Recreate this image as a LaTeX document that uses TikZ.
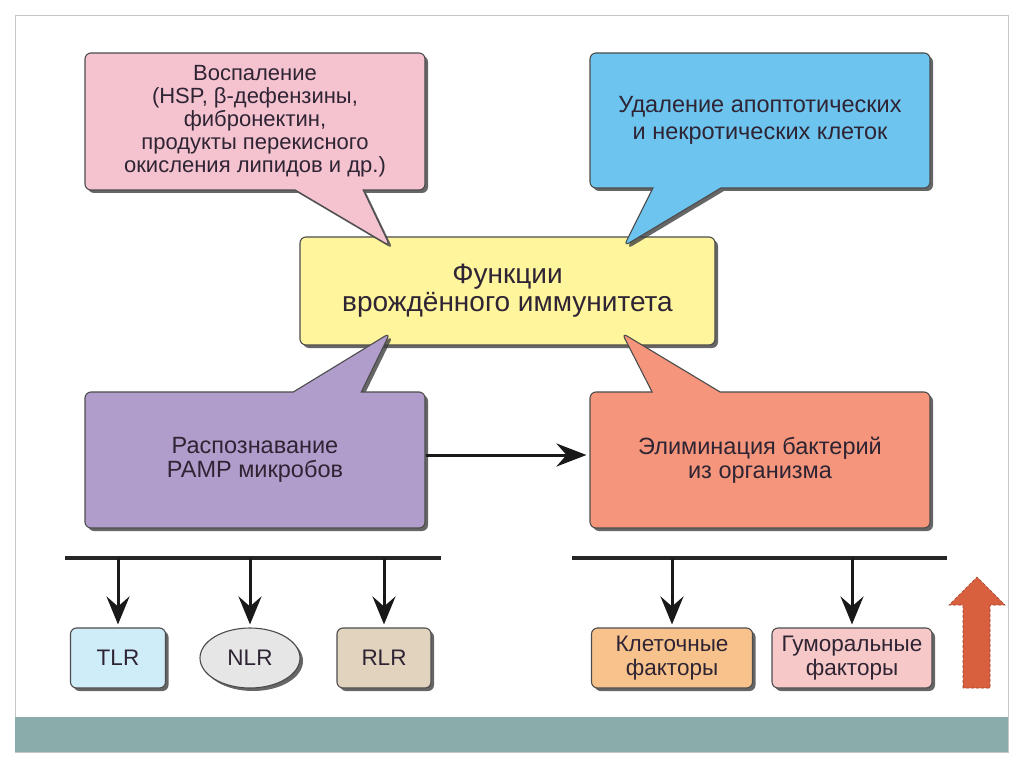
\documentclass[tikz,border=0pt]{standalone}
\usepackage{fontspec}
\setmainfont{Liberation Sans}
\usetikzlibrary{shapes.callouts,shapes.geometric,shadows,arrows.meta}

\definecolor{txtcol}{HTML}{2E2433}
\definecolor{pinkfill}{HTML}{F5C3D0}
\definecolor{bluefill}{HTML}{6CC4EF}
\definecolor{yellowfill}{HTML}{FFF59C}
\definecolor{purplefill}{HTML}{B19DCB}
\definecolor{orangefill}{HTML}{F5957C}
\definecolor{tlrfill}{HTML}{CFECF9}
\definecolor{nlrfill}{HTML}{E6E6E6}
\definecolor{rlrfill}{HTML}{E2D3BE}
\definecolor{cellfill}{HTML}{F8C28C}
\definecolor{humfill}{HTML}{F7C8C8}
\definecolor{barcol}{HTML}{8AACAB}
\definecolor{redarrow}{HTML}{D9603F}

\begin{document}
\begin{tikzpicture}[x=1pt, y=-1pt, >=Stealth, line width=1pt]

    \tikzset{
        shadebox/.style={draw=black!70, line width=1.1pt, rounded corners=6pt,
            align=center, text=txtcol, inner sep=0pt,
            drop shadow={shadow xshift=3pt, shadow yshift=-3pt, fill=black!75, opacity=0.8}},
        bigbox/.style={shadebox, font=\fontsize{23.5}{24.5}\selectfont},
        speech/.style={bigbox, rectangle callout, callout pointer width=68pt},
        smallbox/.style={shadebox, font=\fontsize{22.5}{23.5}\selectfont, minimum height=60pt},
        bus/.style={line width=3.5pt, black!85},
        drop/.style={-{Stealth[length=28pt, width=23pt, inset=10pt]}, line width=3pt, black!90, shorten >=3pt},
    }

    \useasboundingbox (0,0) rectangle (1024,767);

    % =========================================================================
    % FRAME
    % =========================================================================
    \draw[line width=0.8pt, gray!45] (15,15) rectangle (1008,752);
    \fill[barcol] (15,717) rectangle (1008,752);

    % =========================================================================
    % CENTRE
    % =========================================================================
    \node[shadebox, fill=yellowfill, minimum width=415pt, minimum height=108pt,
          font=\fontsize{28}{28}\selectfont] (innate) at (507.5,291)
          {Функции\\врождённого иммунитета};

    % --- Upper callouts ---
    \node[speech, fill=pinkfill, minimum width=340pt, minimum height=137pt,
          font=\fontsize{22}{23}\selectfont,
          callout absolute pointer={(390,246)}] (inflam) at (255,121.5)
          {Воспаление\\(HSP, β-дефензины,\\фибронектин,\\продукты перекисного\\окисления липидов и др.)};
    \node[speech, fill=bluefill, minimum width=340pt, minimum height=135pt,
          font=\fontsize{23.5}{27}\selectfont,
          callout absolute pointer={(624,246)}] (removal) at (760,120.5)
          {Удаление апоптотических\\и некротических клеток};

    % --- Lower callouts ---
    \node[speech, fill=purplefill, minimum width=340pt, minimum height=136pt,
          callout absolute pointer={(390,333)}] (pamp) at (255,460)
          {Распознавание\\PAMP микробов};
    \node[speech, fill=orangefill, minimum width=340pt, minimum height=136pt,
          callout absolute pointer={(622,333)}] (elim) at (760,460)
          {Элиминация бактерий\\из организма};

    \draw[-{Stealth[length=30pt, width=23pt, inset=10pt]}, line width=3pt, black!90, shorten >=3pt]
        ([yshift=5pt]pamp.east) -- ([yshift=5pt]elim.west);

    % =========================================================================
    % RECEPTORS (left)
    % =========================================================================
    \coordinate (busL-w) at (65,558);
    \coordinate (busL-e) at (441,558);
    \draw[bus] (busL-w) -- (busL-e);

    \node[smallbox, fill=tlrfill, minimum width=95pt] (TLR) at (118,658) {TLR};
    \node[shadebox, ellipse, fill=nlrfill, minimum width=100pt, minimum height=60pt,
          font=\fontsize{22.5}{23.5}\selectfont] (NLR) at (250,658) {NLR};
    \node[smallbox, fill=rlrfill, minimum width=94pt] (RLR) at (384,658) {RLR};

    \foreach \recp in {TLR, NLR, RLR}
        \draw[drop] (\recp |- busL-w) -- (\recp);

    % =========================================================================
    % FACTORS (right)
    % =========================================================================
    \coordinate (busR-w) at (572,558);
    \coordinate (busR-e) at (947,558);
    \draw[bus] (busR-w) -- (busR-e);

    \node[smallbox, fill=cellfill, minimum width=161pt] (cellular) at (672,658) {Клеточные\\факторы};
    \node[smallbox, fill=humfill, minimum width=160pt] (humoral) at (852,658) {Гуморальные\\факторы};

    \foreach \fact in {cellular, humoral}
        \draw[drop] (\fact |- busR-w) -- (\fact);

    % --- Red up arrow ---
    \draw[fill=redarrow, draw=redarrow!70!black, line width=0.6pt, densely dashed]
        (963,688) -- (963,605) -- (949,605) -- (977,577) -- (1005,605) -- (990,605) -- (990,688) -- cycle;

\end{tikzpicture}
\end{document}
